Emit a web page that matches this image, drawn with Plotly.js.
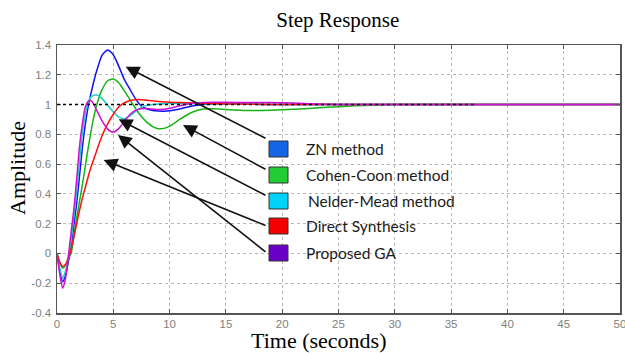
<!DOCTYPE html>
<html>
<head>
<meta charset="utf-8">
<script src="https://cdn.plot.ly/plotly-3.0.1.min.js"></script>
<style>html,body{margin:0;padding:0;background:#fff;}#chart{width:625px;height:353px;}</style>
</head>
<body>
<div id="chart"></div>
<script>
// ---- data ----
var time = [0,0.25,0.5,0.75,1,1.25,1.5,1.75,2,2.25,2.5,2.75,3,3.25,3.5,4,4.5,5,5.5,6,6.5,7,7.5,8,8.5,9,9.5,10,11,12,13,14,15,17,19,21,23,25,28,30,35,40,45,50];

var znMethod = [0,-0.12,-0.19,-0.15,-0.06,0.04,0.19,0.34,0.52,0.71,0.86,0.98,1.07,1.15,1.22,1.33,1.367,1.335,1.255,1.165,1.1,1.035,0.99,0.97,0.96,0.956,0.955,0.958,0.972,0.99,1.0,1.004,1.004,1.002,1.0,1.0,1.0,1.0,1.0,1.0,1.0,1.0,1.0,1.0];

var cohenCoon = [0,-0.06,-0.1,-0.08,-0.03,0.0,0.12,0.24,0.35,0.46,0.58,0.7,0.81,0.91,0.99,1.1,1.16,1.172,1.145,1.09,1.03,0.97,0.92,0.88,0.852,0.838,0.84,0.855,0.905,0.948,0.97,0.972,0.967,0.96,0.962,0.968,0.977,0.986,0.996,1.0,1.0,1.0,1.0,1.0];

var nelderMead = [0,-0.1,-0.166,-0.12,-0.04,0.08,0.25,0.42,0.62,0.81,0.93,1.01,1.05,1.062,1.066,1.04,0.995,0.95,0.915,0.905,0.925,0.955,0.982,0.995,1.0,1.004,1.006,1.007,1.007,1.006,1.005,1.004,1.003,1.002,1.001,1.0,1.0,1.0,1.0,1.0,1.0,1.0,1.0,1.0];

var directSynthesis = [0,-0.06,-0.087,-0.075,-0.035,0.03,0.11,0.2,0.29,0.37,0.44,0.51,0.575,0.63,0.685,0.79,0.87,0.935,0.985,1.012,1.027,1.033,1.032,1.029,1.025,1.021,1.018,1.016,1.013,1.01,1.008,1.006,1.004,1.002,1.001,1.0,1.0,1.0,1.0,1.0,1.0,1.0,1.0,1.0];

var proposedGA = [0,-0.14,-0.233,-0.17,-0.02,0.14,0.3,0.5,0.72,0.87,0.98,1.02,1.027,1.005,0.965,0.89,0.835,0.815,0.84,0.89,0.935,0.962,0.972,0.973,0.97,0.967,0.968,0.975,0.993,1.008,1.014,1.015,1.015,1.014,1.013,1.01,1.004,1.001,1.0,1.0,1.0,1.0,1.0,1.0];

var seriesNames = ["ZN method","Cohen-Coon method","Nelder-Mead method","Direct Synthesis","Proposed GA"];
var yTickVals = [-0.4,-0.2,0,0.2,0.4,0.6,0.8,1,1.2,1.4];
var yTickText = ["-0.4","-0.2","0","0.2","0.4","0.6","0.8","1","1.2","1.4"];
var xTickVals = [0,5,10,15,20,25,30,35,40,45,50];

// ---- styling ----
var lineColors = ["#1010f0","#14b414","#20cccc","#ff1010","#d010d0"];
var boxColors  = ["#1466e6","#22cc33","#00d2fa","#f20000","#6a00c8"];
var seriesData = [znMethod, cohenCoon, nelderMead, directSynthesis, proposedGA];

var traces = seriesData.map(function(ys, i){
  return {x: time, y: ys, type: "scatter", mode: "lines", name: seriesNames[i],
          line: {color: lineColors[i], width: 1.5, shape: "spline", smoothing: 0.6},
          hoverinfo: "skip"};
});

// plot area in pixels: left 57, right 620, top 45, bottom 313
function px2paperX(px){ return (px - 57) / 563; }
function px2paperY(py){ return (313 - py) / 268; }
function px2dataX(px){ return (px - 57) / 563 * 50; }
function px2dataY(py){ return -0.4 + (313 - py) / 268 * 1.8; }

var boxTops = [141, 167, 193, 218, 245];
var textY   = [149, 175, 201, 226, 253];
var textX   = [304, 304, 306, 304, 304];
var tailY   = [139, 170, 196, 226, 253];
var heads   = [[125.7,66.7],[183,125],[118.7,119.3],[103.7,160],[118,135]];

var shapes = [{type:"line", xref:"x", yref:"y", x0:0, x1:37, y0:1, y1:1,
               line:{color:"#000", width:1.6, dash:"dot"}, layer:"above"}];
var annotations = [];

for (var i = 0; i < 5; i++) {
  annotations.push({
    x: px2dataX(heads[i][0]), y: px2dataY(heads[i][1]), xref:"x", yref:"y",
    ax: px2dataX(267), ay: px2dataY(tailY[i]), axref:"x", ayref:"y",
    text: "", showarrow: true, arrowhead: 2, arrowsize: 1.7, arrowwidth: 1.6,
    arrowcolor: "#111", standoff: 0, startstandoff: 0
  });
}
for (var j = 0; j < 5; j++) {
  shapes.push({type:"rect", xref:"paper", yref:"paper",
    x0: px2paperX(269), x1: px2paperX(288),
    y0: px2paperY(boxTops[j] + 16), y1: px2paperY(boxTops[j]),
    fillcolor: boxColors[j], line:{color:"#333", width:1}, layer:"above"});
  annotations.push({x: px2paperX(textX[j]), y: px2paperY(textY[j]), xref:"paper", yref:"paper",
    xanchor:"left", yanchor:"middle", showarrow:false, text: seriesNames[j],
    font:{family:"Lato, 'Open Sans', sans-serif", size:15.5, color:"#1a1a1a"}});
}
// axis titles as annotations
annotations.push({x: px2paperX(318), y: px2paperY(340), xref:"paper", yref:"paper",
  xanchor:"center", yanchor:"middle", showarrow:false, text:"Time (seconds)",
  font:{family:"'Liberation Serif', 'Times New Roman', serif", size:22, color:"#000"}});
annotations.push({x: px2paperX(17), y: px2paperY(168), xref:"paper", yref:"paper",
  xanchor:"center", yanchor:"middle", showarrow:false, text:"Amplitude", textangle:-90,
  font:{family:"'Liberation Serif', 'Times New Roman', serif", size:22, color:"#000"}});

var axisCommon = {
  showline: true, linecolor: "#555", linewidth: 1.5, mirror: "ticks",
  ticks: "inside", ticklen: 4, tickcolor: "#555", tickwidth: 1,
  showgrid: true, gridcolor: "#b8b8b8", griddash: "dot", gridwidth: 1,
  zeroline: false, ticklabeloverflow: "allow",
  tickfont: {family:"'Liberation Sans', Arial, sans-serif", size:11.5, color:"#808080"}
};

var layout = {
  width: 625, height: 353,
  margin: {l:57, r:5, t:45, b:40, pad:0},
  paper_bgcolor: "#fff", plot_bgcolor: "#fff",
  showlegend: false,
  title: {text: "Step Response", x: 0.5405, xanchor: "center", y: 0.945, yanchor: "middle",
          font: {family:"'Liberation Serif', 'Times New Roman', serif", size: 21, color:"#000"}},
  xaxis: Object.assign({}, axisCommon, {range:[0,50], tickvals: xTickVals, ticktext: xTickVals.map(String)}),
  yaxis: Object.assign({}, axisCommon, {range:[-0.4,1.4], tickvals: yTickVals, ticktext: yTickText, ticklabelstandoff: 2}),
  shapes: shapes,
  annotations: annotations
};

Plotly.newPlot("chart", traces, layout, {staticPlot: true, displayModeBar: false});
</script>
</body>
</html>
